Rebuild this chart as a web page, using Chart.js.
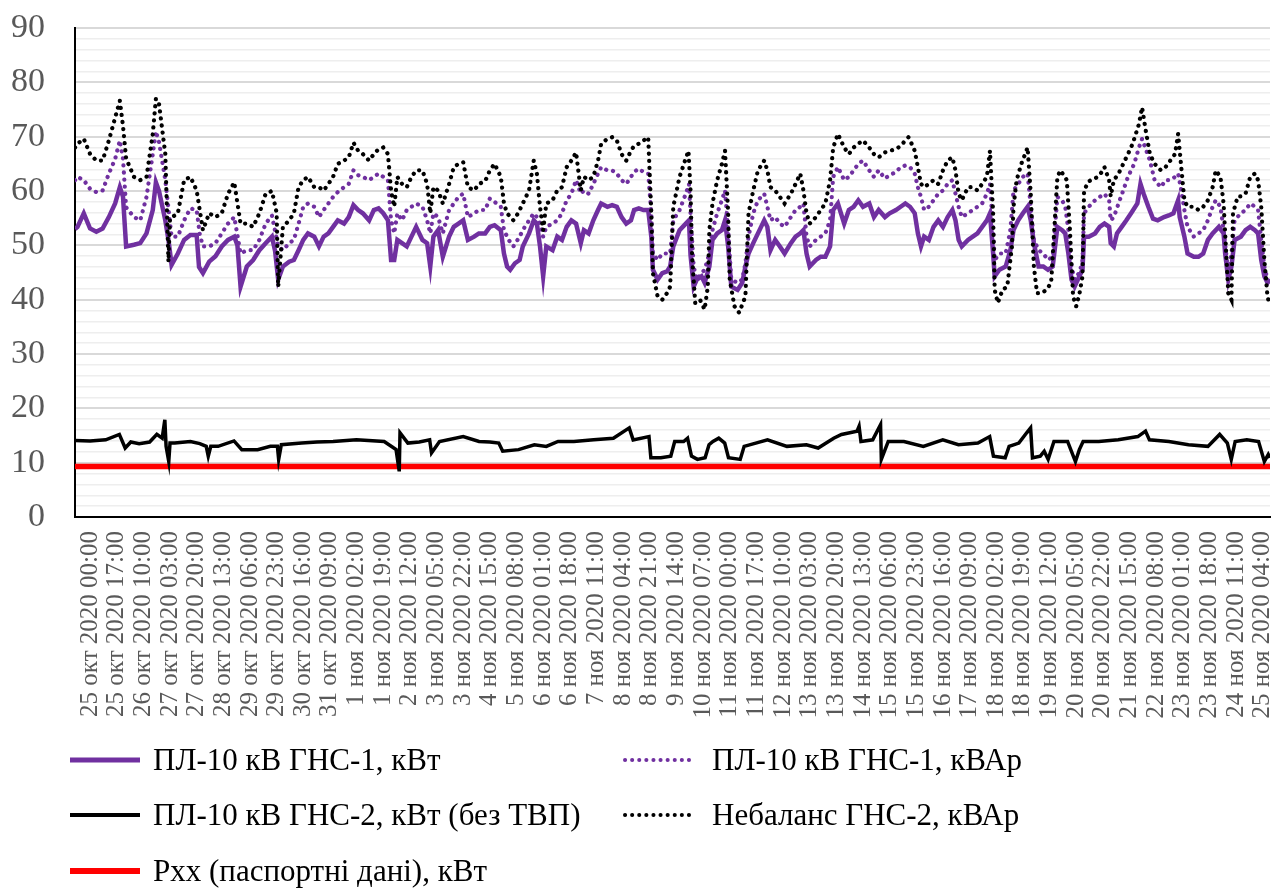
<!DOCTYPE html>
<html>
<head>
<meta charset="utf-8">
<script src="https://cdn.jsdelivr.net/npm/chart.js@4.4.1/dist/chart.umd.min.js"></script>
<style>
  html, body { margin: 0; padding: 0; background: #fff; }
  #wrap { position: relative; width: 1281px; height: 889px; overflow: hidden; }
  #chart { position: absolute; left: 0; top: 0; }
  .item { position: absolute; height: 40px; display: flex; align-items: center; white-space: nowrap;
          font-family: 'Liberation Serif', 'Times New Roman', serif; font-size: 31px; color: #000; }
</style>
</head>
<body>
<div id="wrap">
  <canvas id="chart" width="1281" height="889"></canvas>
  <div id="legend"></div>
</div>
<script>
// hours counted from 25 окт 2020 00:00
const gns1Kw = [[-9.6,53],[-8,53.4],[-4,55.9],[0,53.1],[4,52.5],[8,53.1],[12,55.2],[16,57.7],[19,60.7],[21,59],[23,49.8],[28,50.1],[32,50.4],[36,52.2],[40,56.5],[42,61.6],[44,60],[48,54.6],[50,51],[52,46.4],[56,48.5],[60,51],[64,51.9],[68,51.9],[69.5,46],[72,44.9],[76,47],[80,48],[84,49.8],[88,51],[92,51.6],[94,50],[96,42.4],[100,46.1],[104,47.3],[108,49.1],[112,50.4],[116,51.6],[118,49],[120,43.7],[123,46.1],[127,47],[130,47.3],[133,49.1],[136,51],[139,52.2],[143,51.6],[146,49.8],[149,51.6],[152,52.2],[155,53.4],[158,54.6],[162,54],[165,55.2],[168,57.4],[171,56.5],[174,55.9],[178,54.6],[181,56.5],[184,56.8],[187,55.9],[190,54.6],[192,47.3],[194,47.3],[196,51],[199,50.4],[202,49.8],[205,51.6],[208,53.4],[212,51],[215,50.4],[217,46.1],[219,51.6],[222,52.8],[225,47.9],[229,51.6],[232,53.4],[235,54],[238,54.6],[241,51],[245,51.6],[248,52.2],[252,52.2],[255,53.4],[258,53.7],[262,52.8],[264,48.5],[266,46.1],[268,45.5],[271,46.7],[274,47.3],[276,49.8],[280,52.2],[283,54.6],[285,54],[287,49.8],[289,44.3],[291,49.8],[295,49.1],[298,51.6],[301,51],[304,53.4],[307,54.6],[310,54],[313,50.4],[315,52.8],[318,52.2],[321,54.6],[324,56.5],[326,57.7],[330,57.1],[333,57.4],[336,57.1],[339,55.2],[342,54],[345,54.6],[347,56.5],[350,56.8],[353,56.5],[356,56.5],[358,51.6],[359,45.5],[362,43.7],[365,44.9],[368,45.2],[370,46.1],[372,49.8],[376,52.8],[380,54],[382,54.6],[383,48.2],[385,42.4],[387,43.7],[390,44.3],[392,43.1],[395,46.1],[397,51],[400,52.2],[403,52.8],[405,54.6],[407,49.8],[409,42.4],[413,41.8],[416,43.1],[418,46.1],[420,48.5],[423,50.4],[426,52.2],[430,54.6],[432,53.4],[434,49.1],[437,51],[440,49.8],[443,48.5],[447,50.4],[450,51.6],[453,52.2],[455,52.8],[457,48.5],[459,46.1],[463,47.3],[466,47.9],[469,47.9],[472,49.8],[474,56.5],[477,57.7],[481,54],[484,56.5],[487,57.1],[490,58.3],[493,57.1],[497,57.7],[500,55.2],[503,56.5],[507,55.2],[510,55.9],[514,56.5],[517,57.1],[520,57.7],[523,57.1],[526,55.9],[528,52.2],[530,49.8],[532,51.6],[535,51],[538,53.4],[541,54.6],[544,53.4],[547,55.2],[550,56.5],[552,54.6],[554,51],[556,49.8],[560,51],[563,51.6],[566,52.2],[569,53.4],[572,54.6],[574,55.9],[576,48.5],[577,44.3],[580,45.5],[584,46.1],[587,49.1],[589,52.8],[592,54.6],[595,55.9],[598,57.1],[600,54.6],[602,50.4],[605,46.1],[608,46.1],[611,45.5],[614,46.1],[615,48.5],[617,53.4],[620,52.8],[622,52.2],[624,48.5],[626,43.7],[628,42.4],[631,44.3],[633,45.5],[634,51.6],[637,51.6],[641,52.2],[644,53.4],[647,54],[650,53.4],[651,50.4],[653,49.8],[655,52.2],[658,53.4],[661,54.6],[664,55.9],[668,57.7],[670,61.3],[672,59.5],[675,57.1],[678,54.9],[681,54.6],[685,55.2],[688,55.5],[691,55.9],[694,58.3],[695,55.2],[698,51.6],[700,48.5],[704,47.9],[707,47.9],[710,48.5],[713,51],[716,52.2],[720,53.4],[723,52.2],[724,48.5],[726,43.7],[728,46.1],[730,51],[734,51.6],[737,52.8],[740,53.4],[743,52.8],[745,52.2],[747,47.3],[749,44.3],[751,43.1],[752.6,43.7]];

const gns1Kvar = [[-9.6,62],[-8,62.6],[-4,62],[0,60.4],[4,59.8],[8,60.1],[12,63.2],[16,65.9],[19,69.3],[21,66],[23,57],[28,55.2],[32,54.6],[36,58.9],[40,66.8],[42,71],[44,69],[48,62],[52,51.6],[56,51.6],[60,54.6],[64,56.8],[68,56.5],[70,52],[72,49.8],[76,49.8],[80,50.4],[84,52.2],[88,54],[92,55.2],[96,48.5],[100,49.1],[104,49.1],[108,51],[112,54],[116,55.5],[120,49.8],[123,49.1],[127,50.4],[130,51],[133,54],[136,57.1],[139,57.7],[143,57.1],[146,55.2],[149,56.5],[152,57.7],[155,58.9],[158,59.8],[162,60.7],[165,61.3],[168,63.8],[171,62.9],[174,62.6],[178,62],[181,62.6],[184,63.2],[187,62.6],[190,62],[192,54.6],[194,52.2],[196,55.9],[199,54.6],[202,56.5],[205,57.1],[208,57.7],[212,57.1],[215,54.6],[217,52.2],[219,55.9],[222,55.2],[225,52.2],[229,56.5],[232,57.7],[235,58.9],[238,59.5],[241,55.2],[245,55.9],[248,56.5],[252,56.5],[255,58.6],[258,58],[262,57.1],[264,52.8],[267,51],[270,49.8],[274,51.6],[276,52.8],[280,54.6],[283,55.9],[285,55.2],[287,54],[289,51.6],[291,53.4],[295,54],[298,54.6],[301,55.9],[304,58.3],[307,59.5],[310,62],[313,59.5],[315,60.1],[318,59.5],[321,61.3],[324,63.2],[326,64.4],[330,63.8],[333,63.8],[336,63.2],[339,62],[342,61.3],[345,62.6],[347,63.5],[350,64.1],[353,63.5],[356,63.2],[358,55.9],[359,48.5],[362,47.3],[365,48.5],[368,48.5],[370,48.5],[372,54.6],[376,56.5],[380,59.5],[382,61.3],[383,55.9],[385,46.1],[387,43.7],[390,44.9],[392,45.5],[395,48.5],[397,52.8],[400,55.9],[403,58.3],[405,60.1],[407,52.8],[409,43.7],[413,43.1],[416,43.7],[418,46.7],[420,51.6],[423,55.9],[426,58.3],[430,59.5],[432,57.1],[434,54.6],[437,55.2],[440,54],[443,53.4],[447,55.2],[450,56.5],[453,57.1],[455,57.7],[457,51.6],[459,49.8],[463,51],[466,51.6],[469,52.2],[472,54.6],[474,62.6],[477,64.4],[481,62],[484,62.6],[487,63.8],[490,65],[493,65.6],[497,63.8],[500,62.6],[503,63.8],[507,62.3],[510,62.9],[514,63.5],[517,64.4],[520,64.7],[523,64.4],[526,63.2],[528,60.7],[530,58.9],[532,56.5],[535,57.1],[538,58.3],[541,59.5],[544,60.1],[547,61.3],[550,62],[552,59.5],[554,57.1],[556,55.2],[560,55.9],[563,56.5],[566,57.1],[569,57.7],[572,59.5],[574,61.3],[576,52.8],[577,47.3],[580,48.5],[584,48.5],[587,52.8],[589,60.1],[592,61.3],[595,62.6],[598,63.2],[600,57.1],[602,51],[605,49.1],[608,48.5],[611,47.3],[614,47.9],[615,51.6],[617,58.9],[620,58.3],[622,57.1],[624,52.8],[626,46.1],[628,43.7],[631,45],[633,47],[634,55.9],[637,57.1],[641,58.3],[644,58.9],[647,59.5],[650,58.3],[651,54.6],[653,55.2],[656,57.7],[659,60.1],[662,62.6],[666,65],[669,68],[671,69.6],[673,68],[676,65.6],[679,62],[683,60.7],[686,62],[689,62],[692,62.6],[694,63.2],[696,60.1],[698,56.5],[700,53.4],[704,51.6],[707,52.2],[710,52.8],[713,54.6],[716,57.1],[718,58.3],[721,57.1],[723,52.8],[726,44.9],[728,48.5],[730,54.6],[734,55.9],[737,56.5],[740,57.7],[743,57.1],[745,56.5],[747,51],[749,46.1],[751,43.7],[752.6,43.1]];

const gns2Kw = [[-9.6,14.1],[0,14],[10,14.2],[18.7,15.2],[22.4,12.7],[26,13.8],[31.3,13.5],[38,13.8],[42.6,15.2],[46,14.5],[47.7,17.9],[48.5,13],[50.2,10.2],[51,13.6],[54,13.6],[64,13.9],[70,13.5],[74.1,13],[75.4,11.2],[77,13],[81.7,13],[91.8,14],[96.8,12.4],[106.9,12.4],[115,13],[119.5,13],[120.3,10.6],[122,13.3],[135,13.6],[144.7,13.8],[155,13.9],[169.9,14.2],[187.6,13.9],[195.2,12.4],[197.2,8.4],[197.7,15.5],[202.7,13.6],[210,13.8],[216.6,14.2],[217.8,11.8],[222.9,13.9],[238,14.8],[248.1,13.9],[255,13.8],[260.7,13.6],[263.2,12.1],[273.3,12.4],[283.4,13.3],[291,13],[298.5,13.9],[308.6,13.9],[321.2,14.2],[333.8,14.5],[343.9,16.4],[346.4,14.2],[356.5,14.8],[357.7,10.9],[364.1,10.9],[370.4,11.2],[372.9,13.9],[378.6,13.9],[381.1,14.5],[383.6,11.2],[387.4,10.6],[392.3,10.9],[394.8,13.3],[397.3,13.9],[401,14.5],[404.8,13.6],[407.2,10.9],[414.7,10.6],[417.2,13],[424.6,13.6],[432.1,14.2],[444.5,13],[456.9,13.3],[464.4,12.7],[474.3,14.5],[479.3,15.2],[489.2,15.8],[490.5,16.7],[491.7,13.9],[499.2,14.2],[504.2,17],[504.7,10.6],[509.1,13.9],[519.1,13.9],[531.5,13],[543.9,14.2],[553.9,13.3],[566.3,13.6],[573.8,14.8],[576.2,11.2],[583.7,10.9],[586.2,13],[592.4,13.6],[597.4,15.5],[599.9,16.4],[601.1,10.9],[606.1,11.2],[608.6,12.1],[611.1,10.6],[614.8,13.9],[623.5,13.9],[628.5,10.2],[631,12.4],[633.4,13.9],[643.4,13.9],[655.8,14.2],[668.3,14.8],[673.2,15.8],[675.7,14.2],[688.1,13.9],[700.6,13.3],[713,13],[720.5,15.2],[725.4,13.6],[727.9,10.6],[730.4,13.9],[737.8,14.2],[745.3,13.9],[749,10.2],[751.5,11.5],[752.6,10.9]];

const gns2Kvar = [[-9.6,68],[-8,68.7],[-4,69.6],[0,66.8],[4,65.6],[8,65.6],[12,69.3],[16,73.5],[19,76.6],[21,72],[23,66],[28,62.6],[32,62],[36,62.6],[40,70.5],[42,77],[44,76],[48,66.8],[50,47],[51,55],[54,55.5],[56,55.9],[60,62],[64,62.6],[68,60.1],[72,52.8],[76,55.9],[80,55.2],[84,55.9],[88,59.5],[92,61.6],[96,54],[100,54],[104,53.4],[108,55.9],[112,59.5],[116,60],[119,56],[120,42.4],[123,53.4],[127,54.6],[130,55.9],[133,60.7],[136,62],[139,62.6],[143,60.7],[146,60.7],[149,60.1],[152,61.3],[155,62.6],[158,65],[162,65.6],[165,66.2],[168,68.9],[171,67.4],[174,66.8],[178,65.6],[181,66.8],[184,67.7],[187,68],[190,66.8],[192,60.1],[194,57.1],[196,62.6],[199,61.3],[202,60.7],[205,62.6],[208,63.8],[212,63.8],[215,61.3],[217,55.9],[219,60.7],[222,60.1],[225,57.7],[229,61.3],[232,64.4],[235,65],[238,65.3],[241,60.7],[245,60.1],[248,61.3],[252,61.8],[255,63.8],[258,65],[262,62.6],[264,57.7],[266,55.9],[270,54.6],[273,55.9],[276,57.7],[280,60.1],[283,65.6],[285,63.2],[287,57.1],[289,52.8],[291,57.7],[295,58.3],[298,60.1],[301,60.7],[304,64.4],[307,65.6],[310,67.1],[313,60.1],[315,62.6],[318,62],[321,62.6],[324,65.6],[326,68.7],[330,69.6],[333,69.9],[336,69.3],[339,66.8],[342,65.6],[345,67.4],[347,68.3],[350,68.7],[353,69.3],[356,69.9],[358,55.9],[359,44.9],[362,40.6],[365,40],[368,41.2],[370,42.4],[372,57.1],[376,62.6],[379.5,65.6],[381.7,67.4],[383,60.1],[384,47.9],[386,39.4],[389,40],[392,38.2],[394,42.4],[395,52.8],[397,57.7],[400,62],[403,65],[405,67.4],[407,55.9],[408,43.7],[411,38.8],[414,37.6],[418,40.6],[420,55.9],[423,60.1],[426,63.8],[430,65.6],[432,63.8],[434,60.7],[437,60.1],[440,58.9],[443,57.7],[447,59.5],[450,61.3],[453,63.2],[455,60.1],[457,55.9],[459,54],[463,55.2],[466,56.5],[469,57.7],[472,62],[474,68],[477,70.5],[481,68],[484,66.8],[487,68],[490,68.7],[493,69.3],[497,68],[500,66.8],[503,66.2],[507,67.1],[510,67.4],[514,67.7],[517,68.3],[520,69.3],[522,69.9],[524,68.7],[526,67.4],[528,64.4],[530,61.3],[532,60.7],[535,61.3],[538,62],[541,61.3],[544,63.8],[547,65.6],[550,66.2],[552,63.8],[554,59.5],[556,58.3],[560,60.7],[563,60.7],[566,60.1],[569,61.3],[572,62.6],[574,67.4],[576,55.9],[577,41.8],[579,39.4],[582,41.8],[585,42.4],[588,49.8],[589,57.1],[591,62],[594,65],[598,68],[600,59.5],[602,46.1],[604,41.2],[607,41.2],[610,41.8],[613,43.1],[615,52.8],[617,62.6],[619,63.8],[623,62],[625,52.8],[627,40.6],[629,38.8],[631,41],[633,44.3],[634,60.1],[637,61.8],[641,62.3],[644,62.9],[647,64.4],[650,62],[651,59],[653,62],[656,63.2],[659,65],[662,66.8],[665,68.7],[669,72.3],[671,75.4],[673,71.7],[676,66.8],[679,65],[683,63.8],[686,64.4],[689,65.6],[692,66.8],[694,70.5],[696,64.4],[698,58.3],[700,57.1],[704,57.1],[707,56.5],[710,57.1],[713,58.3],[716,60.7],[718,63.8],[721,62.6],[723,57.7],[726,41.2],[728,40],[729,55.9],[732,59],[734,59],[737,59.5],[740,62.6],[743,63.2],[745,62],[747,57.1],[749,47.3],[751,40.6],[752.6,38.8]];

const pxxLevel = [[-9.6,9.3],[752.6,9.3]];

const xTickLabels = ['25 окт 2020 00:00','25 окт 2020 17:00','26 окт 2020 10:00','27 окт 2020 03:00','27 окт 2020 20:00','28 окт 2020 13:00','29 окт 2020 06:00','29 окт 2020 23:00','30 окт 2020 16:00','31 окт 2020 09:00','1 ноя 2020 02:00','1 ноя 2020 19:00','2 ноя 2020 12:00','3 ноя 2020 05:00','3 ноя 2020 22:00','4 ноя 2020 15:00','5 ноя 2020 08:00','6 ноя 2020 01:00','6 ноя 2020 18:00','7 ноя 2020 11:00','8 ноя 2020 04:00','8 ноя 2020 21:00','9 ноя 2020 14:00','10 ноя 2020 07:00','11 ноя 2020 00:00','11 ноя 2020 17:00','12 ноя 2020 10:00','13 ноя 2020 03:00','13 ноя 2020 20:00','14 ноя 2020 13:00','15 ноя 2020 06:00','15 ноя 2020 23:00','16 ноя 2020 16:00','17 ноя 2020 09:00','18 ноя 2020 02:00','18 ноя 2020 19:00','19 ноя 2020 12:00','20 ноя 2020 05:00','20 ноя 2020 22:00','21 ноя 2020 15:00','22 ноя 2020 08:00','23 ноя 2020 01:00','23 ноя 2020 18:00','24 ноя 2020 11:00','25 ноя 2020 04:00'];
const tickStep = 17; // hours between labels

const seriesNames = ['ПЛ-10 кВ ГНС-1, кВт', 'ПЛ-10 кВ ГНС-1, кВАр', 'ПЛ-10 кВ ГНС-2, кВт (без ТВП)', 'Небаланс ГНС-2, кВАр', 'Рхх (паспортні дані), кВт'];

const serif = "'Liberation Serif', 'Times New Roman', serif";
const purple = '#7030A0';
const toXY = arr => arr.map(p => ({ x: p[0], y: p[1] }));

const datasets = [
  { label: seriesNames[0], data: toXY(gns1Kw), borderColor: purple, borderWidth: 4.5, order: 4 },
  { label: seriesNames[1], data: toXY(gns1Kvar), borderColor: purple, borderWidth: 4.2, borderDash: [0.1, 7], borderCapStyle: 'round', order: 3 },
  { label: seriesNames[2], data: toXY(gns2Kw), borderColor: '#000', borderWidth: 3.5, order: 2 },
  { label: seriesNames[3], data: toXY(gns2Kvar), borderColor: '#000', borderWidth: 4.2, borderDash: [0.1, 7], borderCapStyle: 'round', order: 1 },
  { label: seriesNames[4], data: toXY(pxxLevel), borderColor: '#FF0000', borderWidth: 5.5, order: 5 }
];

new Chart(document.getElementById('chart'), {
  type: 'line',
  data: { datasets },
  options: {
    responsive: false,
    animation: false,
    events: [],
    elements: { point: { radius: 0 }, line: { tension: 0, fill: false } },
    layout: { padding: { top: 28, right: 11, left: 0, bottom: 0 } },
    plugins: { legend: { display: false }, tooltip: { enabled: false } },
    scales: {
      x: {
        type: 'linear',
        min: -9.6,
        max: 752.6,
        afterBuildTicks: s => { s.ticks = xTickLabels.map((_, i) => ({ value: i * tickStep })); },
        afterFit: s => { s.height = 372; s.paddingLeft = 0; s.paddingRight = 0; },
        ticks: {
          autoSkip: false,
          minRotation: 90,
          maxRotation: 90,
          padding: 14,
          color: '#595959',
          font: { family: serif, size: 25 },
          callback: (v, i) => xTickLabels[i]
        },
        grid: { display: false, drawTicks: false },
        border: { display: true, color: '#000', width: 2 }
      },
      y: {
        min: 0,
        max: 90,
        afterFit: s => { s.width = 75; s.paddingTop = 0; s.paddingBottom = 0; },
        ticks: {
          stepSize: 2,
          autoSkip: false,
          padding: 30,
          color: '#595959',
          font: { family: serif, size: 34 },
          callback: v => (v % 10 === 0 ? v : '')
        },
        grid: {
          drawTicks: false,
          color: c => (c.tick && c.tick.value % 10 === 0 ? '#d9d9d9' : '#eeeeee'),
          lineWidth: c => (c.tick && c.tick.value % 10 === 0 ? 2 : 1.5)
        },
        border: { display: true, color: '#000', width: 2 }
      }
    }
  }
});

// legend below the chart, two columns like the original: [left, centre y, sample box width]
const legendPos = [[70, 760, 83], [622, 760, 90], [70, 815, 83], [622, 815, 90], [70, 871, 83]];
const legend = document.getElementById('legend');
datasets.forEach((ds, i) => {
  const [left, cy, boxW] = legendPos[i];
  const dotted = !!ds.borderDash;
  const item = document.createElement('div');
  item.className = 'item';
  item.style.left = left + 'px';
  item.style.top = (cy - 20) + 'px';
  const line = dotted
    ? `<line x1="3" y1="8" x2="68" y2="8" stroke="${ds.borderColor}" stroke-width="4" stroke-linecap="round" stroke-dasharray="0.1 7"/>`
    : `<line x1="0" y1="8" x2="70" y2="8" stroke="${ds.borderColor}" stroke-width="${ds.borderWidth + 0.5}"/>`;
  item.innerHTML = `<svg width="${boxW}" height="16">${line}</svg><span>${ds.label}</span>`;
  legend.appendChild(item);
});
</script>
</body>
</html>
